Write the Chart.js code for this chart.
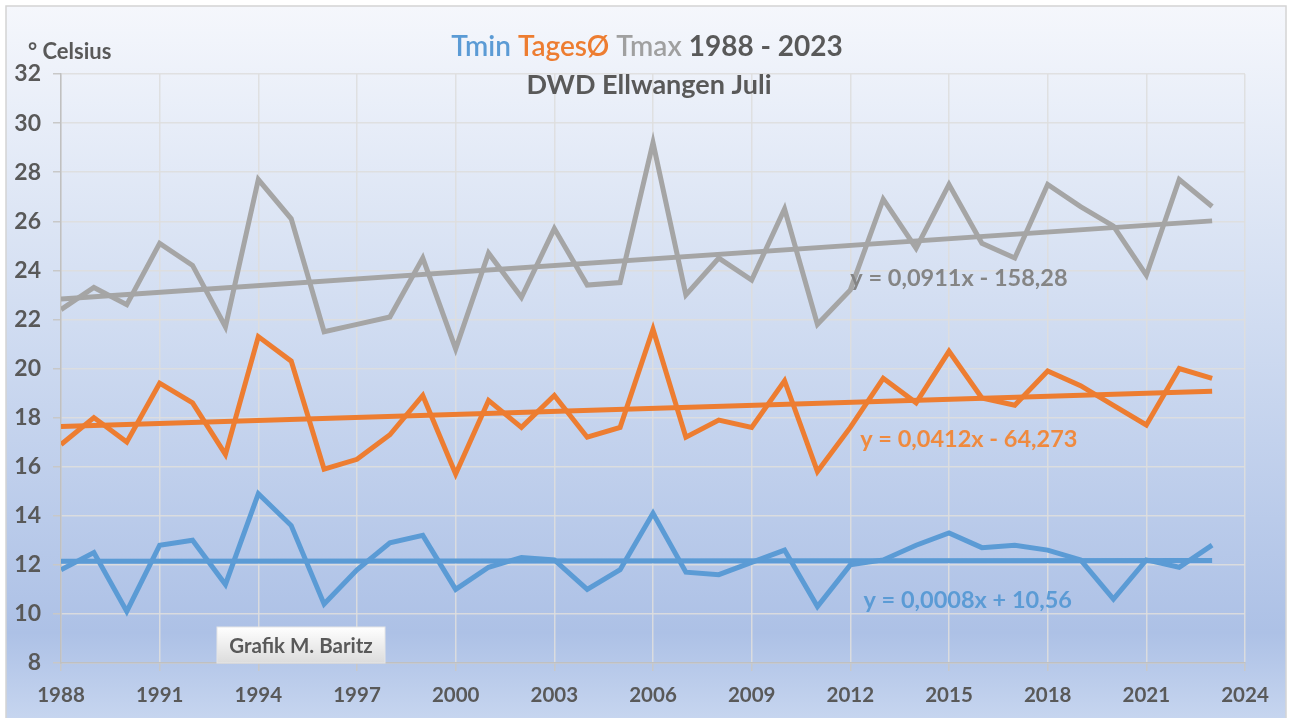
<!DOCTYPE html>
<html>
<head>
<meta charset="utf-8">
<script src="https://cdn.jsdelivr.net/npm/chart.js@4.4.0/dist/chart.umd.min.js"></script>
<style>
  body { margin: 0; background: #fff; }
  canvas { display: block; }
</style>
</head>
<body>
<canvas id="chartJuli" width="1290" height="718"></canvas>
<script>
const years = [1988, 1989, 1990, 1991, 1992, 1993, 1994, 1995, 1996, 1997, 1998, 1999,
  2000, 2001, 2002, 2003, 2004, 2005, 2006, 2007, 2008, 2009, 2010, 2011,
  2012, 2013, 2014, 2015, 2016, 2017, 2018, 2019, 2020, 2021, 2022, 2023];

const tmin = [11.8, 12.5, 10.1, 12.8, 13.0, 11.2, 14.9, 13.6, 10.4, 11.8, 12.9, 13.2,
  11.0, 11.9, 12.3, 12.2, 11.0, 11.8, 14.1, 11.7, 11.6, 12.1, 12.6, 10.3,
  12.0, 12.2, 12.8, 13.3, 12.7, 12.8, 12.6, 12.2, 10.6, 12.2, 11.9, 12.8];

const tagesMittel = [16.9, 18.0, 17.0, 19.4, 18.6, 16.5, 21.3, 20.3, 15.9, 16.3, 17.3, 18.9,
  15.7, 18.7, 17.6, 18.9, 17.2, 17.6, 21.6, 17.2, 17.9, 17.6, 19.5, 15.8,
  17.6, 19.6, 18.6, 20.7, 18.8, 18.5, 19.9, 19.3, 18.5, 17.7, 20.0, 19.6];

const tmax = [22.4, 23.3, 22.6, 25.1, 24.2, 21.7, 27.7, 26.1, 21.5, 21.8, 22.1, 24.5,
  20.8, 24.7, 22.9, 25.7, 23.4, 23.5, 29.2, 23.0, 24.5, 23.6, 26.5, 21.8,
  23.2, 26.9, 24.9, 27.5, 25.1, 24.5, 27.5, 26.6, 25.8, 23.8, 27.7, 26.6];

// Excel-Trendlinien (Steigung, Achsenabschnitt) wie in der Grafik angegeben
const trendSlope = [0.0008, 0.0412, 0.0911];
const trendIntercept = [10.56, -64.273, -158.28];
const trendText = ['y = 0,0008x + 10,56', 'y = 0,0412x - 64,273', 'y = 0,0911x - 158,28'];

const seriesNames = ['Tmin', 'TagesØ', 'Tmax'];
const lineColors = ['#5b9bd5', '#ed7d31', '#a5a5a5'];
const textColors = ['#5b9bd5', '#ef8a3f', '#858585'];

const FONT = 'Lato, "Open Sans", sans-serif';
const GREY = '#595959';

const seriesValues = [tmin, tagesMittel, tmax];

function points(values) {
  return years.map((y, i) => ({ x: y, y: values[i] }));
}

function trendPoints(k) {
  const first = years[0], last = years[years.length - 1];
  return [
    { x: first, y: trendSlope[k] * first + trendIntercept[k] },
    { x: last, y: trendSlope[k] * last + trendIntercept[k] }
  ];
}

const datasets = [];
for (let k = 0; k < 3; k++) {
  datasets.push({
    label: seriesNames[k],
    data: points(seriesValues[k]),
    borderColor: lineColors[k],
    borderWidth: 5,
    pointRadius: 0,
    tension: 0,
    borderJoinStyle: 'miter'
  });
  datasets.push({
    label: 'Trend ' + seriesNames[k],
    data: trendPoints(k),
    borderColor: lineColors[k],
    borderWidth: 5,
    pointRadius: 0,
    tension: 0
  });
}

const backgroundPlugin = {
  id: 'background',
  beforeDraw(chart) {
    const ctx = chart.ctx;
    ctx.save();
    ctx.fillStyle = '#ffffff';
    ctx.fillRect(0, 0, chart.width, chart.height);
    const g = ctx.createLinearGradient(0, 6, 0, chart.height);
    g.addColorStop(0, '#f5f7fc');
    g.addColorStop(0.45, '#d0dcf1');
    g.addColorStop(0.88, '#adc1e6');
    g.addColorStop(1, '#c6d5ef');
    ctx.fillStyle = g;
    ctx.fillRect(6, 6, 1280, chart.height - 6);
    ctx.strokeStyle = '#d4d4d4';
    ctx.lineWidth = 1.5;
    ctx.strokeRect(6, 6, 1280, chart.height);
    ctx.restore();
  }
};

const textPlugin = {
  id: 'texts',
  afterDraw(chart) {
    const ctx = chart.ctx;
    const xs = chart.scales.x, ys = chart.scales.y;
    ctx.save();
    ctx.textBaseline = 'middle';

    // Titel, mehrfarbig
    const parts = [
      ['Tmin ', lineColors[0], '600'],
      ['TagesØ ', lineColors[1], '600'],
      ['Tmax ', '#a0a0a0', '600'],
      ['1988 - 2023', GREY, 'bold']
    ];
    ctx.textAlign = 'left';
    let total = 0;
    parts.forEach(p => {
      ctx.font = p[2] + ' 28px ' + FONT;
      total += ctx.measureText(p[0]).width;
    });
    let x = 647 - total / 2;
    parts.forEach(p => {
      ctx.font = p[2] + ' 28px ' + FONT;
      ctx.fillStyle = p[1];
      ctx.fillText(p[0], x, 47);
      x += ctx.measureText(p[0]).width;
    });

    ctx.textAlign = 'center';
    ctx.font = 'bold 27px ' + FONT;
    ctx.fillStyle = GREY;
    ctx.fillText('DWD Ellwangen Juli', 649, 85);

    ctx.textAlign = 'left';
    ctx.font = 'bold 22px ' + FONT;
    ctx.fillText('° Celsius', 28, 52);

    // Gleichungen der Trendlinien
    const anchorX = [2012.4, 2012.3, 2012.0];
    const anchorY = [10.57, 17.09, 23.69];
    ctx.font = 'bold 23.5px ' + FONT;
    for (let k = 0; k < 3; k++) {
      ctx.fillStyle = textColors[k];
      ctx.fillText(trendText[k], xs.getPixelForValue(anchorX[k]), ys.getPixelForValue(anchorY[k]));
    }

    // Textfeld "Grafik M. Baritz"
    const bx = 217, by = 627, bw = 168, bh = 36;
    const bg = ctx.createLinearGradient(0, by, 0, by + bh);
    bg.addColorStop(0, '#ffffff');
    bg.addColorStop(1, '#dcdcdc');
    ctx.fillStyle = bg;
    ctx.fillRect(bx, by, bw, bh);
    ctx.strokeStyle = '#e6e6e6';
    ctx.lineWidth = 1;
    ctx.strokeRect(bx, by, bw, bh);
    ctx.textAlign = 'center';
    ctx.font = 'bold 20.5px ' + FONT;
    ctx.fillStyle = GREY;
    ctx.fillText('Grafik M. Baritz', bx + bw / 2, by + bh / 2 + 1);

    ctx.restore();
  }
};

new Chart(document.getElementById('chartJuli'), {
  type: 'line',
  data: { datasets: datasets },
  options: {
    responsive: false,
    animation: false,
    layout: { padding: { left: 0, right: 45, top: 74, bottom: 0 } },
    plugins: {
      legend: { display: false },
      tooltip: { enabled: false }
    },
    scales: {
      x: {
        type: 'linear',
        min: 1988,
        max: 2024,
        afterFit(scale) { scale.height = 55; },
        ticks: {
          stepSize: 3,
          padding: 12,
          color: GREY,
          font: { family: FONT, size: 20.5, weight: 'bold' },
          callback: v => String(v)
        },
        grid: { color: 'rgba(222,222,222,0.9)', lineWidth: 1.5, tickLength: 8, tickColor: '#c8c8c8' },
        border: { color: '#c0c0c0', width: 1.5 }
      },
      y: {
        min: 8,
        max: 32,
        afterFit(scale) { scale.width = 61; },
        ticks: {
          stepSize: 2,
          padding: 12,
          color: GREY,
          font: { family: FONT, size: 23, weight: 'bold' }
        },
        grid: { color: 'rgba(222,222,222,0.9)', lineWidth: 1.5, tickLength: 8, tickColor: '#c8c8c8' },
        border: { color: '#c0c0c0', width: 1.5 }
      }
    }
  },
  plugins: [backgroundPlugin, textPlugin]
});
</script>
</body>
</html>
